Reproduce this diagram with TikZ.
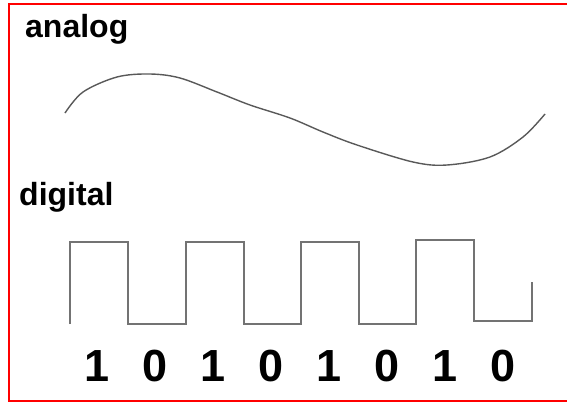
\documentclass[tikz,border=0pt]{standalone}
\usepackage{fontspec}
\setmainfont{Liberation Sans}
\begin{document}
\begin{tikzpicture}[x=1pt,y=-1pt,
  lbl/.style={inner sep=0pt,anchor=base west,font=\fontsize{32}{38}\selectfont\bfseries},
  bit/.style={inner sep=0pt,anchor=base,font=\fontsize{45}{54}\selectfont\bfseries},
  wave/.style={draw=black!55,line width=1.9pt,line join=miter},
  curve/.style={draw=black!65,line width=1.4pt},
  redbar/.style={fill=red}]
\useasboundingbox (0,0) rectangle (567,402);
\fill[redbar] (7.7,2.7) rectangle (567,5.3);
\fill[redbar] (7.7,2.7) rectangle (10.3,402);
\fill[redbar] (7.7,399.7) rectangle (567,402);
\node[lbl] (analog) at (25,37) {analog};
\node[lbl] (digital) at (19,205) {digital};
\draw[curve] plot[smooth,tension=0.55] coordinates {(65,113) (83,92) (117,77) (150,74) (180,78) (217,92) (250,105) (290,118) (323,132) (357,145) (413,162) (447,165) (490,157) (523,137) (545,114)};
\draw[wave] (70,324) -- (70,242) -- (128,242) -- (128,324) -- (186,324) -- (186,242) -- (244,242) -- (244,324) -- (301,324) -- (301,242) -- (359,242) -- (359,324) -- (416,324) -- (416,240) -- (474,240) -- (474,321) -- (532,321) -- (532,282);
\foreach \b [count=\i from 0] in {1,0,1,0,1,0,1,0}
  \node[bit] (b\i) at (97+58*\i,381) {\b};
\end{tikzpicture}
\end{document}
